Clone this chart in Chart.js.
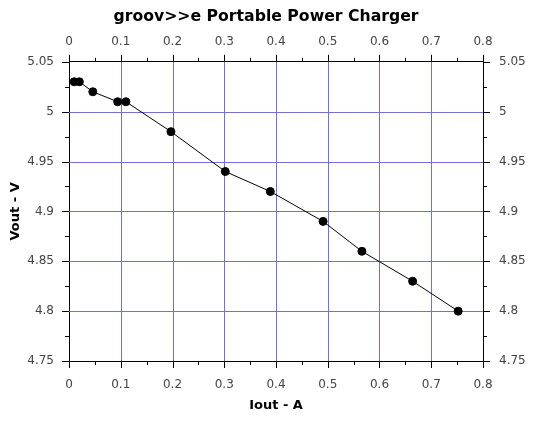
<!DOCTYPE html>
<html>
<head>
<meta charset="UTF-8">
<title>groov>>e Portable Power Charger</title>
<script src="https://cdn.jsdelivr.net/npm/chart.js"></script>
<style>
  html, body { margin: 0; padding: 0; background: #fff; }
  #wrap { width: 552px; height: 422px; }
</style>
</head>
<body>
<div id="wrap"><canvas id="chart"></canvas></div>
<script>
// measured current (A) and output voltage (V)
const iout = [0.01, 0.02, 0.046, 0.094, 0.11, 0.197, 0.302, 0.389, 0.491, 0.566, 0.664, 0.752];
const vout = [5.03, 5.03, 5.02, 5.01, 5.01, 4.98, 4.94, 4.92, 4.89, 4.86, 4.83, 4.80];

const xRange = [0, 0.8];
const yRange = [4.75, 5.05];
const xStep = 0.1;
const yStep = 0.05;

const FONT = "'DejaVu Sans', sans-serif";
const GRID = '#7070d6';

const fmt = v => String(+v.toFixed(3));
const crisp = p => Math.round(p) + 0.5;

// grid lines snapped to whole pixels, drawn under the data; the frame stays black
const gridLines = {
  id: 'gridLines',
  beforeDatasetsDraw(chart) {
    const c = chart.ctx, a = chart.chartArea;
    const sx = chart.scales.x, sy = chart.scales.y;
    c.save();
    c.strokeStyle = GRID;
    c.lineWidth = 1;
    sx.ticks.forEach(t => {
      if (t.value <= sx.min || t.value >= sx.max) return;
      const p = crisp(sx.getPixelForValue(t.value));
      c.beginPath(); c.moveTo(p, a.top); c.lineTo(p, a.bottom); c.stroke();
    });
    sy.ticks.forEach(t => {
      if (t.value <= sy.min || t.value >= sy.max) return;
      const p = crisp(sy.getPixelForValue(t.value));
      c.beginPath(); c.moveTo(a.left, p); c.lineTo(a.right, p); c.stroke();
    });
    c.restore();
  }
};

// outward tick marks: long at the labelled values, short half-way between
const tickMarks = {
  id: 'tickMarks',
  afterDraw(chart) {
    const c = chart.ctx;
    c.save();
    c.strokeStyle = '#000';
    c.lineWidth = 1;
    Object.values(chart.scales).forEach(s => {
      const horiz = s.isHorizontal();
      const step = horiz ? xStep : yStep;
      const vals = [];
      s.ticks.forEach(t => {
        vals.push([t.value, 7]);
        if (t.value + step / 2 <= s.max + 1e-9) vals.push([t.value + step / 2, 4]);
      });
      vals.forEach(([v, len]) => {
        const p = crisp(s.getPixelForValue(v));
        c.beginPath();
        if (horiz) {
          const y = s.position === 'top' ? s.bottom : s.top;
          c.moveTo(p, y); c.lineTo(p, y + (s.position === 'top' ? -len : len));
        } else {
          const x = s.position === 'left' ? s.right : s.left;
          c.moveTo(x, p); c.lineTo(x + (s.position === 'left' ? -len : len), p);
        }
        c.stroke();
      });
    });
    c.restore();
  }
};

function xAxis(pos) {
  return {
    type: 'linear', position: pos, min: xRange[0], max: xRange[1],
    title: pos === 'bottom' ? { display: true, text: 'Iout - A', color: '#000',
      font: { family: FONT, size: 13, weight: 'bold' }, padding: { top: 0, bottom: 0 } } : { display: false },
    ticks: { stepSize: xStep, maxRotation: 0, color: '#444', padding: pos === 'top' ? 13 : 17,
      font: { family: FONT, size: 12 }, callback: v => fmt(v) },
    grid: { display: false, drawTicks: false },
    border: { display: true, color: '#000', width: 1 },
    afterFit: s => { s.height = pos === 'top' ? 33 : 52; }
  };
}

function yAxis(pos) {
  return {
    type: 'linear', position: pos, min: yRange[0], max: yRange[1],
    title: pos === 'left' ? { display: true, text: 'Vout - V', color: '#000',
      font: { family: FONT, size: 13, weight: 'bold' }, padding: { bottom: 4 } } : { display: false },
    ticks: { stepSize: yStep, color: '#444', padding: pos === 'left' ? 15 : 16,
      font: { family: FONT, size: 12 }, callback: v => fmt(v) },
    grid: { display: false, drawTicks: false },
    border: { display: true, color: '#000', width: 1 },
    afterFit: s => { s.width = pos === 'left' ? 65 : 45; }
  };
}

new Chart(document.getElementById('chart'), {
  type: 'scatter',
  data: {
    datasets: [{
      label: 'Vout',
      data: iout.map((x, i) => ({ x: x, y: vout[i] })),
      showLine: true,
      borderColor: '#000',
      borderWidth: 1,
      backgroundColor: '#000',
      pointRadius: 4,
      pointHoverRadius: 4
    }]
  },
  options: {
    responsive: true,
    maintainAspectRatio: false,
    animation: false,
    devicePixelRatio: 1,
    layout: { padding: { left: 4, right: 24, top: 0, bottom: 9 } },
    plugins: {
      legend: { display: false },
      tooltip: { enabled: false },
      title: { display: true, text: 'groov>>e Portable Power Charger', color: '#000',
        font: { family: FONT, size: 15.7, weight: 'bold' }, padding: { top: 8, bottom: 2 } }
    },
    scales: {
      x: xAxis('bottom'),
      x2: xAxis('top'),
      y: yAxis('left'),
      y2: yAxis('right')
    }
  },
  plugins: [gridLines, tickMarks]
});
</script>
</body>
</html>
